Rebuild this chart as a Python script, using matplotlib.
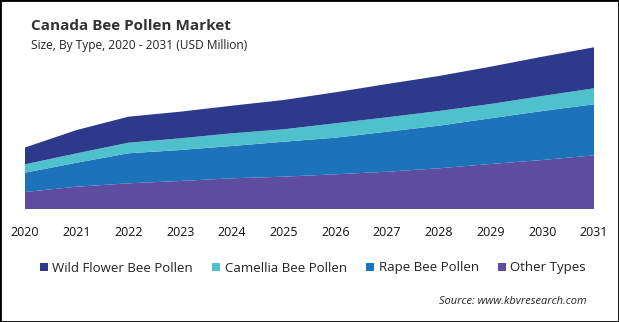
import matplotlib
matplotlib.use("Agg")
import matplotlib.pyplot as plt
from matplotlib.patches import Rectangle, Patch

plt.rcParams['font.family'] = ['Open Sans', 'DejaVu Sans']

years = [2020, 2021, 2022, 2023, 2024, 2025, 2026, 2027, 2028, 2029, 2030, 2031]
other_types = [17.0, 22.3, 25.7, 28.0, 30.7, 32.3, 34.7, 37.3, 40.7, 45.0, 49.0, 53.7]
rape = [19.3, 24.0, 30.0, 31.0, 32.3, 35.0, 36.6, 40.0, 42.6, 45.7, 49.0, 51.0]
camellia = [8.4, 9.4, 10.6, 11.7, 12.7, 12.4, 14.4, 14.4, 14.7, 14.3, 15.0, 16.0]
wild_flower = [16.8, 23.3, 26.0, 26.6, 27.6, 29.3, 31.0, 33.3, 35.0, 37.3, 39.3, 41.0]

labels = ["Wild Flower Bee Pollen", "Camellia Bee Pollen", "Rape Bee Pollen", "Other Types"]
colors = ["#2D3A8C", "#4FC1CD", "#1C73B9", "#5E4C9F"]

W, H = 619, 322
fig = plt.figure(figsize=(W / 100, H / 100), dpi=100)
fig.patch.set_facecolor("white")

base_px, top_px = 209, 39
ax = fig.add_axes([25 / W, (H - base_px) / H, (594 - 25) / W, (base_px - top_px) / H])

# stacked from the bottom: Other, Rape, Camellia, Wild Flower
ax.stackplot(years, other_types, rape, camellia, wild_flower,
             colors=[colors[3], colors[2], colors[1], colors[0]], linewidth=0)
ax.set_xlim(2020, 2031)
ax.set_ylim(0, base_px - top_px)
ax.set_xticks(years)
ax.set_xticklabels([str(y) for y in years], fontsize=9, color="#111111")
ax.tick_params(axis="x", length=0, pad=12)
ax.set_yticks([])
for s in ax.spines.values():
    s.set_visible(False)
ax.set_facecolor("none")

fig.text(31 / W, 1 - 26 / H, "Canada Bee Pollen Market", fontsize=11,
         fontweight="bold", color="#333333", va="center", ha="left")
fig.text(31 / W, 1 - 46 / H, "Size, By Type, 2020 - 2031 (USD Million)", fontsize=8.6,
         color="#222222", va="center", ha="left")

handles = [Patch(facecolor=c, edgecolor="none") for c in colors]
fig.legend(handles, labels, loc="center", bbox_to_anchor=(313 / W, 1 - 268 / H),
           ncol=4, frameon=False, fontsize=9.5, handlelength=0.6, handleheight=0.6,
           handletextpad=0.35, columnspacing=1.45, labelcolor="#222222")

fig.text(587 / W, 1 - 302 / H, "Source: www.kbvresearch.com", fontsize=7.9,
         style="italic", color="#222222", ha="right", va="center")

fig.add_artist(Rectangle((0, 0), 1, 1, transform=fig.transFigure, fill=False,
                         edgecolor="black", linewidth=2))

fig.savefig("out.png", dpi=100)
